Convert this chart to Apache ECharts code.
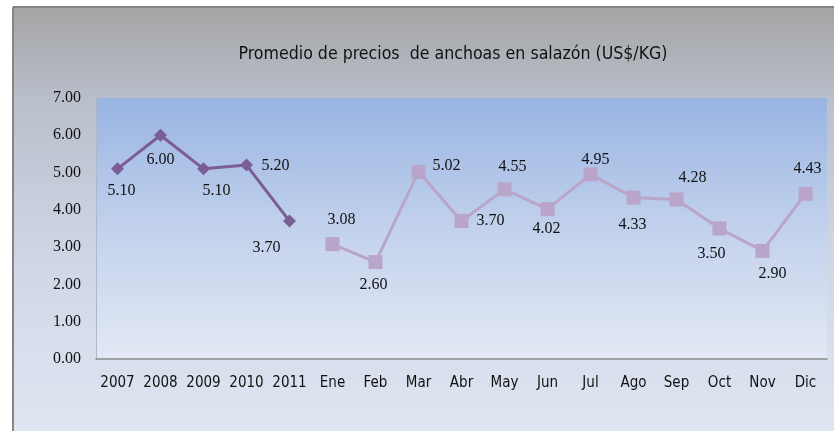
<!DOCTYPE html>
<html>
<head>
<meta charset="utf-8">
<script src="https://cdn.jsdelivr.net/npm/echarts@6/dist/echarts.min.js"></script>
<style>
  html, body { margin: 0; padding: 0; background: #ffffff; }
  #chart { width: 834px; height: 431px; }
</style>
</head>
<body>
<div id="chart"></div>
<script>
// Categories: annual averages followed by the months of the current year
const categories = ['2007', '2008', '2009', '2010', '2011',
  'Ene', 'Feb', 'Mar', 'Abr', 'May', 'Jun', 'Jul', 'Ago', 'Sep', 'Oct', 'Nov', 'Dic'];

// Annual average price (US$/KG)
const annualValues = [5.10, 6.00, 5.10, 5.20, 3.70];

// Monthly average price (US$/KG)
const monthlyValues = [3.08, 2.60, 5.02, 3.70, 4.55, 4.02, 4.95, 4.33, 4.28, 3.50, 2.90, 4.43];

// Y axis ticks
const yTicks = [0, 1, 2, 3, 4, 5, 6, 7];

// Label placement (offset from each marker centre), one per category
const labelOffsets = [
  [4, 22], [0, 25], [13, 22], [29, 1], [-23, 27],
  [9, -24], [-2, 23], [28, -6], [29, 0], [8, -23], [-1, 20],
  [5, -15], [-1, 27], [16, -22], [-8, 25], [10, 23], [2, -25]
];

const annualData = categories.map((c, i) => i < annualValues.length ? {
  value: annualValues[i],
  label: { offset: labelOffsets[i] }
} : null);

const monthlyData = categories.map((c, i) => {
  const j = i - annualValues.length;
  return j >= 0 ? { value: monthlyValues[j], label: { offset: labelOffsets[i] } } : null;
});

const narrowFont = '"Liberation Sans Narrow", "DejaVu Sans Condensed", sans-serif';

const labelFont = {
  show: true,
  position: 'inside',
  fontFamily: '"Liberation Serif", serif',
  fontSize: 16,
  color: '#111111',
  formatter: p => Number(p.value).toFixed(2)
};

const chart = echarts.init(document.getElementById('chart'), null, { renderer: 'canvas' });

chart.setOption({
  animation: false,
  backgroundColor: '#ffffff',
  graphic: [
    {
      type: 'rect',
      z: -10,
      silent: true,
      shape: { x: 13, y: 7, width: 821, height: 424 },
      style: {
        fill: new echarts.graphic.LinearGradient(0, 0, 0, 1, [
          { offset: 0, color: '#a4a4a4' },
          { offset: 0.22, color: '#b9bfcb' },
          { offset: 0.6, color: '#cfd7e6' },
          { offset: 1, color: '#dfe6f2' }
        ])
      }
    },
    {
      type: 'line', z: -9, silent: true,
      shape: { x1: 13, y1: 7, x2: 834, y2: 7 },
      style: { stroke: '#858585', lineWidth: 2 }
    },
    {
      type: 'line', z: -9, silent: true,
      shape: { x1: 13, y1: 7, x2: 13, y2: 431 },
      style: { stroke: '#858585', lineWidth: 2 }
    }
  ],
  title: {
    text: 'Promedio de precios  de anchoas en salazón (US$/KG)',
    left: 448,
    textAlign: 'center',
    top: 40,
    textStyle: {
      fontFamily: narrowFont,
      fontSize: 17.6,
      fontWeight: 'normal',
      color: '#111111'
    }
  },
  grid: {
    left: 96,
    right: 7,
    top: 98,
    bottom: 72,
    show: true,
    borderWidth: 0,
    backgroundColor: new echarts.graphic.LinearGradient(0, 0, 0, 1, [
      { offset: 0, color: '#98b4e2' },
      { offset: 0.5, color: '#c2d1ec' },
      { offset: 1, color: '#e3e9f4' }
    ])
  },
  xAxis: {
    type: 'category',
    data: categories,
    boundaryGap: true,
    axisLine: { show: true, lineStyle: { color: '#8a8a8a', width: 1.5 } },
    axisTick: { show: false },
    axisLabel: {
      margin: 17,
      fontFamily: narrowFont,
      fontSize: 15,
      color: '#111111',
      interval: 0
    },
    splitLine: { show: false }
  },
  yAxis: {
    type: 'value',
    min: yTicks[0],
    max: yTicks[yTicks.length - 1],
    interval: 1,
    axisLine: { show: true, lineStyle: { color: '#aeb8cc', width: 1 } },
    axisTick: { show: false },
    splitLine: { show: false },
    axisLabel: {
      margin: 15,
      fontFamily: '"Liberation Serif", serif',
      fontSize: 16,
      color: '#111111',
      formatter: v => v.toFixed(2)
    }
  },
  series: [
    {
      name: 'Anual',
      type: 'line',
      data: annualData,
      connectNulls: false,
      symbol: 'diamond',
      symbolSize: 13,
      lineStyle: { color: '#7b5e93', width: 3 },
      itemStyle: { color: '#7b5e93' },
      label: labelFont,
      z: 3
    },
    {
      name: 'Mensual',
      type: 'line',
      data: monthlyData,
      connectNulls: false,
      symbol: 'rect',
      symbolSize: 14,
      lineStyle: { color: '#b9a5c9', width: 3 },
      itemStyle: { color: '#b9a5c9' },
      label: labelFont,
      z: 3
    }
  ]
});
</script>
</body>
</html>
